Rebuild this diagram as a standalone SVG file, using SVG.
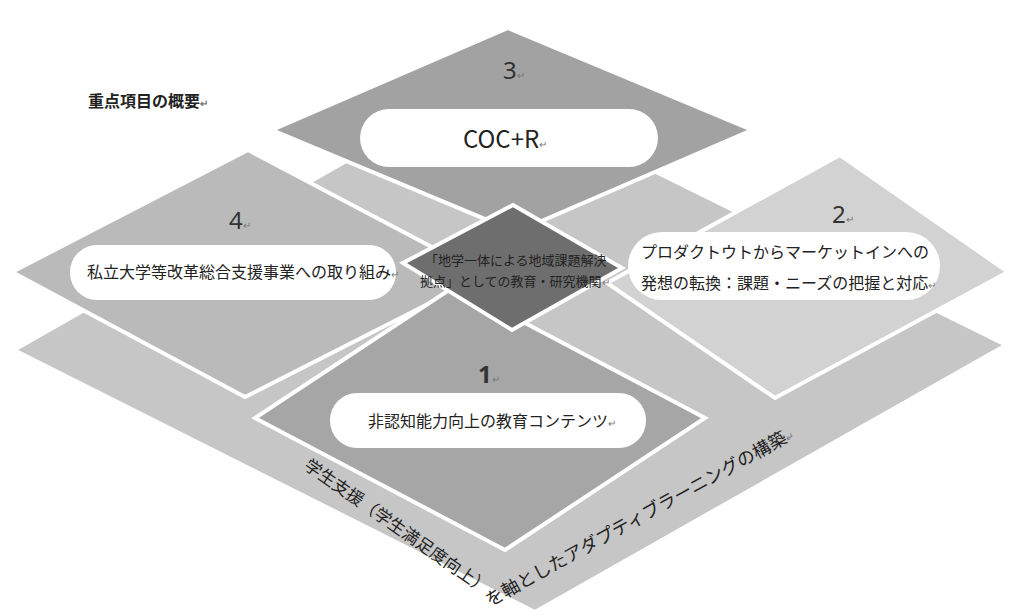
<svg xmlns="http://www.w3.org/2000/svg" width="1012" height="615" viewBox="0 0 1012 615">
<style>
.sh{stroke:#fff;stroke-width:4;stroke-linejoin:miter}
.pill{fill:#fff}
.t{font-family:"Noto Sans CJK JP","Noto Sans",sans-serif;fill:#222}
.num{font-family:"Noto Sans","Noto Sans CJK JP",sans-serif;fill:#333;font-size:24px}
.rm{fill:#777;font-size:10px}
</style>
<rect width="1012" height="615" fill="#fff"/>
<g id="base">
<polygon class="sh" points="14,350 480,85 1006,345 535,612" fill="#c6c6c6"/>
</g>
<g id="node3">
<polygon class="sh" points="508,28 752,130 516,232 272,130" fill="#a2a2a2"/>
<rect class="pill" x="360" y="109" width="298" height="58" rx="29"/>
<text class="num" x="503" y="79">3<tspan class="rm">↵</tspan></text>
<text class="t" x="463" y="148" font-size="24" font-family="Noto Sans">COC+R<tspan class="rm">↵</tspan></text>
</g>
<g id="node4">
<polygon class="sh" points="248,150 485,275 245,397 12,272" fill="#bababa"/>
<rect class="pill" x="70" y="245" width="326" height="55" rx="27"/>
<text class="num" x="229" y="229" font-size="22">4<tspan class="rm">↵</tspan></text>
<text class="t" x="87" y="278" font-size="16">私立大学等改革総合支援事業への取り組み<tspan class="rm">↵</tspan></text>
</g>
<g id="node2">
<polygon class="sh" points="840,155 1008,272 775,398 607,283" fill="#d2d2d2"/>
<rect class="pill" x="628" y="232" width="312" height="68" rx="34"/>
<text class="num" x="832" y="223" font-size="22">2<tspan class="rm">↵</tspan></text>
<text class="t" x="641" y="258" font-size="16">プロダクトウトからマーケットインへの</text>
<text class="t" x="641" y="289" font-size="16">発想の転換：課題・ニーズの把握と対応<tspan class="rm">↵</tspan></text>
</g>
<g id="node1">
<polygon class="sh" points="455,286 705,418 505,550 255,418" fill="#a6a6a6"/>
<rect class="pill" x="330" y="393" width="316" height="55" rx="27"/>
<text class="num" x="478" y="383" font-size="22" font-family="Liberation Serif" font-weight="bold">1<tspan class="rm" font-weight="normal">↵</tspan></text>
<text class="t" x="368" y="427" font-size="16">非認知能力向上の教育コンテンツ<tspan class="rm">↵</tspan></text>
</g>
<g id="center">
<polygon class="sh" points="513,205 622,268 512,330 403,263" fill="#6e6e6e"/>
<text class="t" x="425" y="265" font-size="13" fill="#111">「地学一体による地域課題解決</text>
<text class="t" x="420" y="286" font-size="13" fill="#111">拠点」としての教育・研究機関<tspan class="rm">↵</tspan></text>
</g>
<g id="title">
<text class="t" x="88" y="107" font-size="16" font-weight="bold">重点項目の概要<tspan class="rm">↵</tspan></text>
</g>
<g id="bandtext">
<text class="t" font-size="17" transform="translate(303,468) rotate(35)">学生支援（学生満足度向上）</text>
<text class="t" font-size="18" transform="translate(490,607) rotate(-29)">を軸としたアダプティブラーニングの構築<tspan class="rm">↵</tspan></text>
</g>
<g id="connectors"></g>
</svg>
